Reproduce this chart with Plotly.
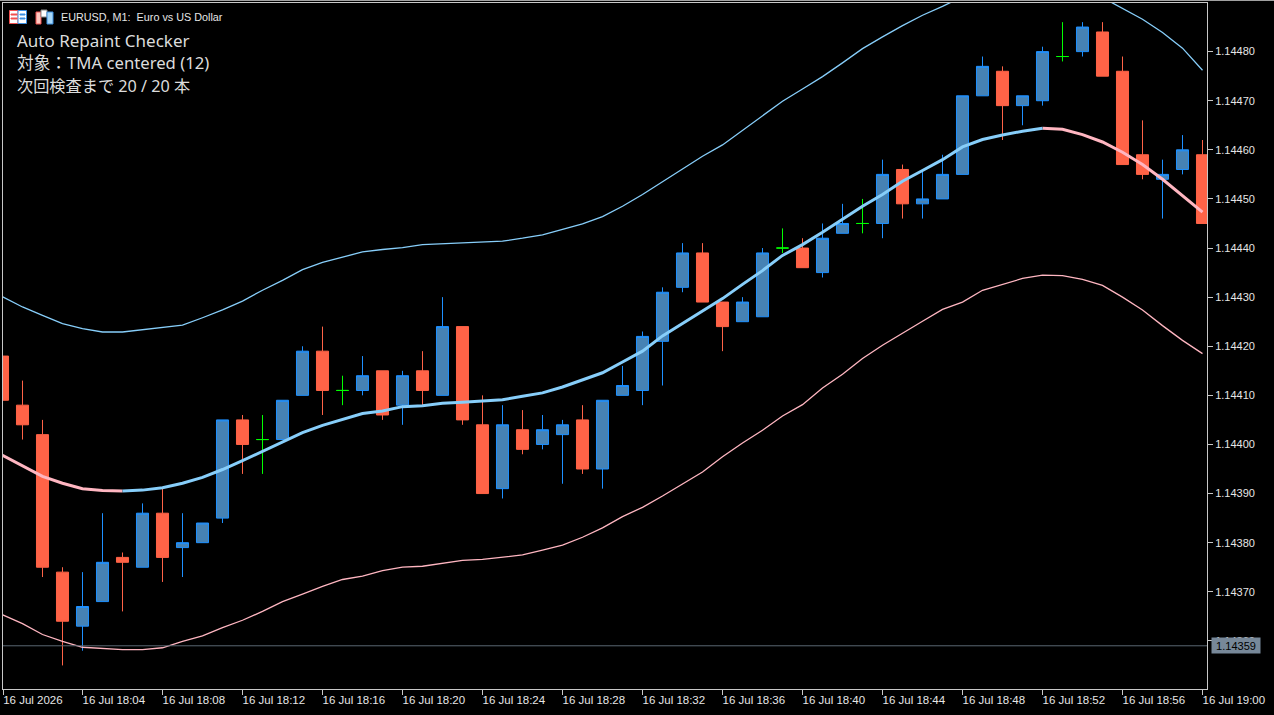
import pandas as pd
import plotly.graph_objects as go

W, H = 1274, 715
LEFT, RIGHT, TOP, BOTTOM = 3, 1207, 3, 689

times = pd.date_range("2026-07-16 18:00", periods=61, freq="min")

opens = [1.14418, 1.14408, 1.14402, 1.14374, 1.14363, 1.14368, 1.14377, 1.14375, 1.14386, 1.14379,
         1.14380, 1.14385, 1.14405, 1.14401, 1.14401, 1.14410, 1.14419, 1.14411, 1.14411, 1.14415,
         1.14408, 1.14415, 1.14410, 1.14424, 1.14404, 1.14391, 1.14403, 1.14400, 1.14402, 1.14405,
         1.14395, 1.14410, 1.14411, 1.14421, 1.14432, 1.14439, 1.14429, 1.14425, 1.14426, 1.14440,
         1.14440, 1.14435, 1.14443, 1.14445, 1.14445, 1.14456, 1.14449, 1.14450, 1.14455, 1.14471,
         1.14476, 1.14469, 1.14470, 1.14479, 1.14480, 1.14484, 1.14476, 1.14459, 1.14454, 1.14456,
         1.14459]
highs = [1.14418, 1.14413, 1.14405, 1.14375, 1.14374, 1.14386, 1.14378, 1.14388, 1.14391, 1.14386,
         1.14384, 1.14405, 1.14406, 1.14406, 1.14409, 1.14420, 1.14424, 1.14414, 1.14418, 1.14415,
         1.14415, 1.14419, 1.14430, 1.14424, 1.14410, 1.14408, 1.14407, 1.14406, 1.14405, 1.14408,
         1.14409, 1.14416, 1.14423, 1.14432, 1.14441, 1.14441, 1.14429, 1.14430, 1.14440, 1.14444,
         1.14442, 1.14445, 1.14449, 1.14450, 1.14458, 1.14457, 1.14456, 1.14459, 1.14471, 1.14479,
         1.14477, 1.14471, 1.14481, 1.14486, 1.14486, 1.14486, 1.14479, 1.14466, 1.14458, 1.14463,
         1.14462]
lows = [1.14409, 1.14401, 1.14373, 1.14355, 1.14358, 1.14368, 1.14366, 1.14375, 1.14372, 1.14373,
        1.14380, 1.14384, 1.14394, 1.14394, 1.14401, 1.14410, 1.14406, 1.14408, 1.14410, 1.14405,
        1.14404, 1.14408, 1.14410, 1.14404, 1.14390, 1.14389, 1.14398, 1.14399, 1.14392, 1.14394,
        1.14391, 1.14410, 1.14408, 1.14412, 1.14431, 1.14429, 1.14419, 1.14425, 1.14426, 1.14439,
        1.14436, 1.14434, 1.14443, 1.14443, 1.14442, 1.14446, 1.14446, 1.14450, 1.14455, 1.14471,
        1.14462, 1.14465, 1.14469, 1.14478, 1.14479, 1.14475, 1.14457, 1.14454, 1.14446, 1.14455,
        1.14445]
closes = [1.14409, 1.14404, 1.14375, 1.14364, 1.14367, 1.14376, 1.14376, 1.14386, 1.14377, 1.14380,
          1.14384, 1.14405, 1.14400, 1.14401, 1.14409, 1.14419, 1.14411, 1.14411, 1.14414, 1.14406,
          1.14414, 1.14411, 1.14424, 1.14405, 1.14390, 1.14404, 1.14399, 1.14403, 1.14404, 1.14395,
          1.14409, 1.14412, 1.14422, 1.14431, 1.14439, 1.14429, 1.14424, 1.14429, 1.14439, 1.14440,
          1.14436, 1.14442, 1.14445, 1.14445, 1.14455, 1.14449, 1.14450, 1.14455, 1.14471, 1.14477,
          1.14469, 1.14471, 1.14480, 1.14479, 1.14485, 1.14475, 1.14457, 1.14455, 1.14455, 1.14460,
          1.14445]

tma_center = [1.143978, 1.143957, 1.143935, 1.143921, 1.143910, 1.143906, 1.143905, 1.143907, 1.143912, 1.143921,
              1.143933, 1.143949, 1.143967, 1.143986, 1.144004, 1.144024, 1.144039, 1.144051, 1.144063, 1.144068,
              1.144077, 1.144079, 1.144084, 1.144086, 1.144089, 1.144091, 1.144098, 1.144105, 1.144117, 1.144131,
              1.144146, 1.144168, 1.144190, 1.144221, 1.144246, 1.144271, 1.144297, 1.144326, 1.144354, 1.144385,
              1.144407, 1.144432, 1.144458, 1.144485, 1.144509, 1.144536, 1.144558, 1.144580, 1.144606, 1.144621,
              1.144630, 1.144638, 1.144644, 1.144642, 1.144631, 1.144616, 1.144595, 1.144570, 1.144540, 1.144507,
              1.144473]
tma_upper = [1.144301, 1.144280, 1.144263, 1.144246, 1.144236, 1.144229, 1.144229, 1.144234, 1.144239, 1.144243,
             1.144258, 1.144274, 1.144292, 1.144314, 1.144334, 1.144356, 1.144371, 1.144381, 1.144392, 1.144397,
             1.144401, 1.144407, 1.144409, 1.144410, 1.144412, 1.144414, 1.144420, 1.144427, 1.144438, 1.144449,
             1.144464, 1.144485, 1.144509, 1.144535, 1.144560, 1.144587, 1.144610, 1.144640, 1.144669, 1.144699,
             1.144724, 1.144749, 1.144777, 1.144806, 1.144830, 1.144853, 1.144874, 1.144892, 1.144912, 1.144929,
             1.144933, 1.144937, 1.144943, 1.144939, 1.144927, 1.144910, 1.144888, 1.144866, 1.144839, 1.144807,
             1.144762]
tma_lower = [1.143653, 1.143635, 1.143613, 1.143599, 1.143587, 1.143585, 1.143582, 1.143582, 1.143586, 1.143599,
             1.143610, 1.143627, 1.143642, 1.143660, 1.143680, 1.143695, 1.143711, 1.143725, 1.143732, 1.143743,
             1.143750, 1.143752, 1.143758, 1.143764, 1.143766, 1.143770, 1.143775, 1.143785, 1.143795, 1.143811,
             1.143830, 1.143853, 1.143872, 1.143895, 1.143920, 1.143944, 1.143975, 1.144003, 1.144029, 1.144058,
             1.144081, 1.144115, 1.144143, 1.144175, 1.144202, 1.144227, 1.144251, 1.144275, 1.144290, 1.144314,
             1.144326, 1.144338, 1.144345, 1.144344, 1.144336, 1.144324, 1.144300, 1.144274, 1.144242, 1.144212,
             1.144185]

price_ticks = [1.1436, 1.1437, 1.1438, 1.1439, 1.1440, 1.1441, 1.1442, 1.1443, 1.1444, 1.1445, 1.1446, 1.1447, 1.1448]
time_ticks = ["18:00:02", "18:04", "18:08", "18:12", "18:16", "18:20", "18:24", "18:28",
              "18:32", "18:36", "18:40", "18:44", "18:48", "18:52", "18:56", "19:00"]
time_labels = ["16 Jul 2026"] + ["16 Jul " + t for t in time_ticks[1:]]
last_price = 1.14359

title_text = "EURUSD, M1:\u00a0\u00a0Euro vs US Dollar"
info_lines = ["Auto Repaint Checker", "対象：TMA centered (12)", "次回検査まで 20 / 20 本"]

AXIS = "#c8c8c8"
TEXT = "#e6e6e6"
UP_FILL, UP_LINE = "#4682B4", "#1E90FF"
DOWN_FILL, DOWN_LINE = "#FF6347", "#FF6347"
DOJI = "#00FF00"
SKY, PINK = "#87CEFA", "#FFB6C1"


def px(x):
    return (x - LEFT) / (RIGHT - LEFT)


def py(y):
    return 1 - (y - TOP) / (BOTTOM - TOP)


def candles(keep, line, fill):
    idx = [i for i in range(len(opens)) if keep(opens[i], closes[i])]
    style = dict(line=dict(color=line, width=1), fillcolor=fill)
    return go.Candlestick(
        x=[times[i] for i in idx],
        open=[opens[i] for i in idx],
        high=[highs[i] for i in idx],
        low=[lows[i] for i in idx],
        close=[closes[i] for i in idx],
        increasing=style,
        decreasing=style,
        whiskerwidth=0,
        showlegend=False,
    )


fig = go.Figure()
fig.add_trace(candles(lambda o, c: c > o, UP_LINE, UP_FILL))
fig.add_trace(candles(lambda o, c: c < o, DOWN_LINE, DOWN_FILL))
fig.add_trace(candles(lambda o, c: c == o, DOJI, DOJI))

# outer bands
fig.add_trace(go.Scatter(x=times, y=tma_upper, mode="lines", line=dict(color=SKY, width=1.3), showlegend=False))
fig.add_trace(go.Scatter(x=times, y=tma_lower, mode="lines", line=dict(color=PINK, width=1.3), showlegend=False))

# centre line changes colour with its slope
rising = [False] * len(tma_center)
falling = [False] * len(tma_center)
for i in range(len(tma_center) - 1):
    if tma_center[i + 1] > tma_center[i]:
        rising[i] = rising[i + 1] = True
    else:
        falling[i] = falling[i + 1] = True
fig.add_trace(go.Scatter(x=times, y=[v if f else None for v, f in zip(tma_center, falling)], mode="lines",
                         line=dict(color=PINK, width=3), showlegend=False))
fig.add_trace(go.Scatter(x=times, y=[v if r else None for v, r in zip(tma_center, rising)], mode="lines",
                         line=dict(color=SKY, width=3), showlegend=False))

fig.add_hline(y=last_price, line=dict(color="#5a6672", width=1))

info_font = "Noto Sans, Noto Sans CJK JP"
annotations = [
    dict(x=px(60), y=py(17), text=title_text, font=dict(family="Liberation Sans", size=10.8, color=TEXT)),
    dict(x=px(16), y=py(41), text=info_lines[0], font=dict(family=info_font, size=17, color="#dcdcdc")),
    dict(x=px(16), y=py(63), text=info_lines[1], font=dict(family=info_font, size=16.7, color="#dcdcdc")),
    dict(x=px(16), y=py(86), text=info_lines[2], font=dict(family=info_font, size=16.2, color="#dcdcdc")),
]
for a in annotations:
    a.update(xref="paper", yref="paper", xanchor="left", yanchor="middle", showarrow=False, borderpad=0)
annotations.append(dict(x=px(1211), y=last_price, xref="paper", yref="y", text=f"{last_price:.5f}",
                        xanchor="left", yanchor="middle", showarrow=False, bgcolor="#778899", borderpad=1,
                        width=46, height=13, align="center",
                        font=dict(family="Liberation Sans", size=11, color="#000000")))


def rect(x0, y0, x1, y1, fill, line=None):
    return dict(type="rect", xref="paper", yref="paper", x0=px(x0), y0=py(y0), x1=px(x1), y1=py(y1),
                fillcolor=fill, line=dict(color=line or fill, width=1))


# the little toolbar icons and window edge
icons = [
    rect(9.5, 10.5, 18, 23.5, "#ffffff", "#f05050"),
    rect(18, 10.5, 26.5, 23.5, "#ffffff", "#3a8ee0"),
    rect(11, 14, 17, 15, "#f05050"), rect(11, 18, 17, 19, "#f05050"),
    rect(20, 14, 25, 15, "#3a8ee0"), rect(20, 18, 25, 19, "#3a8ee0"),
    rect(36, 12, 41, 24, "#ffc8c0", "#f05050"),
    rect(41, 10, 47, 17, "#ffffff", "#888888"),
    rect(47, 12, 53, 24, "#a8d8f8", "#3a8ee0"),
    dict(type="line", xref="paper", yref="paper", x0=px(0), x1=px(W), y0=py(0.5), y1=py(0.5),
         line=dict(color="#a0a0a0", width=1)),
]

axis_font = dict(family="Liberation Sans", size=11, color=TEXT)
fig.update_layout(
    width=W,
    height=H,
    margin=dict(l=LEFT, r=W - RIGHT, t=TOP, b=H - BOTTOM),
    paper_bgcolor="#000000",
    plot_bgcolor="#000000",
    showlegend=False,
    boxgap=0.14,
    annotations=annotations,
    shapes=list(fig.layout.shapes) + icons,
    xaxis=dict(
        # 20 px per minute, 18:00 sits half a pixel left of the plot edge
        range=["2026-07-16 18:00:01.5", "2026-07-16 19:00:13.5"],
        rangeslider=dict(visible=False),
        tickvals=["2026-07-16 " + t for t in time_ticks],
        ticktext=time_labels,
        ticks="outside",
        ticklen=5,
        tickcolor=AXIS,
        tickfont=dict(family="Liberation Sans", size=11.5, color=TEXT),
        ticklabelposition="outside right",
        ticklabelshift=-1,
        showgrid=False,
        zeroline=False,
        showline=True,
        mirror=True,
        linecolor=AXIS,
        linewidth=1,
    ),
    yaxis=dict(
        range=[1.143502, 1.144899],
        side="right",
        tickvals=price_ticks,
        tickformat=".5f",
        ticks="outside",
        ticklen=5,
        tickcolor=AXIS,
        tickfont=axis_font,
        showgrid=False,
        zeroline=False,
        showline=True,
        mirror=True,
        linecolor=AXIS,
        linewidth=1,
    ),
)

fig.write_html("out.html", config=dict(displayModeBar=False),
               post_script="document.body.style.margin='0';document.body.style.overflow='hidden';")
